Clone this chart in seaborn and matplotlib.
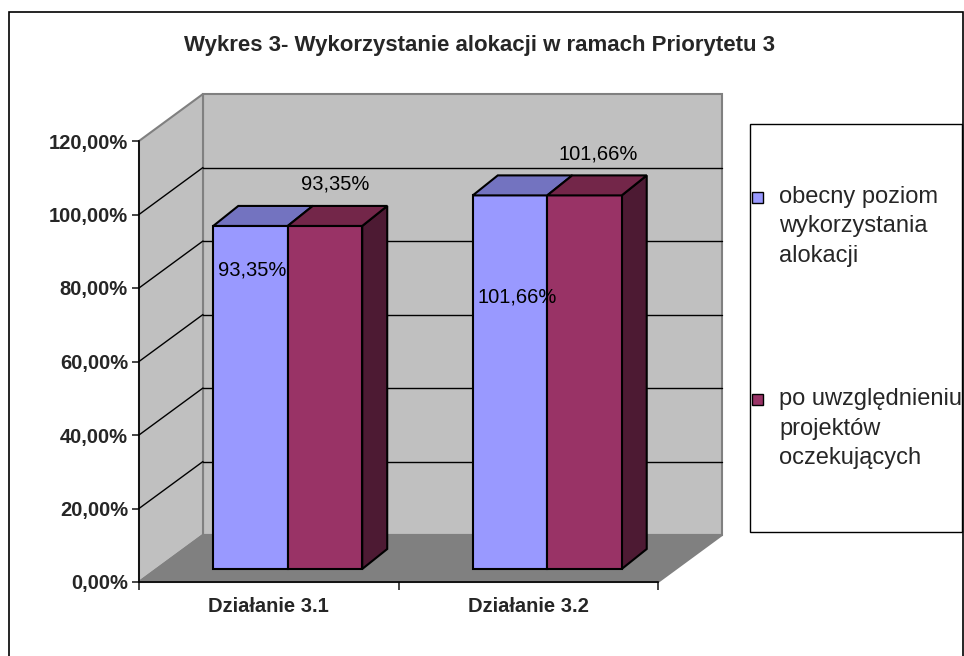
import matplotlib
matplotlib.use("Agg")
import matplotlib.pyplot as plt
from matplotlib.patches import Polygon, Rectangle
import pandas as pd
import seaborn as sns

# dane z wykresu
categories = ["Działanie 3.1", "Działanie 3.2"]
series_names = ["obecny poziom\nwykorzystania\nalokacji",
                "po uwzględnieniu\nprojektów\noczekujących"]
current_level = [0.9335, 1.0166]
with_pending = [0.9335, 1.0166]
y_ticks = [0.0, 0.2, 0.4, 0.6, 0.8, 1.0, 1.2]
title = "Wykres 3- Wykorzystanie alokacji w ramach Priorytetu 3"

front_colors = ["#9999FF", "#993366"]
top_colors = ["#7373C0", "#732649"]
side_colors = ["#4D4D80", "#4D1A33"]

df = pd.DataFrame({
    "kategoria": categories * 2,
    "seria": [series_names[0]] * 2 + [series_names[1]] * 2,
    "wartosc": current_level + with_pending,
})

sns.set_style("white")
plt.rcParams["font.family"] = ["Liberation Sans", "DejaVu Sans"]

W, H = 964, 656
fig = plt.figure(figsize=(W / 100, H / 100), dpi=100)

# front plane of the 3D box, in pixels
left, right, bottom, top = 139, 658, 582, 141
ax = fig.add_axes([left / W, (H - bottom) / H, (right - left) / W, (bottom - top) / H])
ux = (right - left) / 2.0      # px per category
uy = (bottom - top) / 1.2      # px per 100%

# depth offsets (px -> data units)
wall_dx, wall_dy = 64 / ux, 47 / uy
bar_dx, bar_dy = 19 / ux, 13 / uy
deep_dx, deep_dy = 25 / ux, 20 / uy

sns.barplot(data=df, x="kategoria", y="wartosc", hue="seria", palette=front_colors,
            saturation=1, width=0.574, edgecolor="black", linewidth=1.5, ax=ax,
            legend=False, zorder=3, clip_on=False)

x0, x1 = -0.5, 1.5
# walls and floor
ax.add_patch(Rectangle((x0 + wall_dx, wall_dy), x1 - x0, 1.2, fc="#C0C0C0", ec="#808080",
                       lw=1.5, zorder=0, clip_on=False))
ax.add_patch(Polygon([(x0, 0), (x0, 1.2), (x0 + wall_dx, 1.2 + wall_dy), (x0 + wall_dx, wall_dy)],
                     closed=True, fc="#C0C0C0", ec="#808080", lw=1.5, zorder=0, clip_on=False))
ax.add_patch(Polygon([(x0, 0), (x1, 0), (x1 + wall_dx, wall_dy), (x0 + wall_dx, wall_dy)],
                     closed=True, fc="#808080", ec="#808080", lw=1.5, zorder=0.5, clip_on=False))
for t in y_ticks[1:-1]:
    ax.plot([x0 + wall_dx, x1 + wall_dx], [t + wall_dy, t + wall_dy], color="black", lw=1,
            zorder=1, clip_on=False)
    ax.plot([x0, x0 + wall_dx], [t, t + wall_dy], color="black", lw=1, zorder=1, clip_on=False)

# 3D faces of the bars
for i, cont in enumerate(ax.containers):
    for p in cont.patches:
        p.set_x(p.get_x() + bar_dx)
        p.set_y(p.get_y() + bar_dy)
        bx, bw = p.get_x(), p.get_width()
        by, bt = p.get_y(), p.get_y() + p.get_height()
        ax.add_patch(Polygon([(bx + bw, by), (bx + bw, bt), (bx + bw + deep_dx, bt + deep_dy),
                              (bx + bw + deep_dx, by + deep_dy)], closed=True,
                             fc=side_colors[i], ec="black", lw=1.5, zorder=2, clip_on=False))
        ax.add_patch(Polygon([(bx, bt), (bx + bw, bt), (bx + bw + deep_dx, bt + deep_dy),
                              (bx + deep_dx, bt + deep_dy)], closed=True,
                             fc=top_colors[i], ec="black", lw=1.5, zorder=4, clip_on=False))

# data labels (positions as in the original Excel chart)
label_pos = [[(-0.0645, 0.848), (0.9586, 0.776)],
             [(0.255, 1.082), (1.269, 1.165)]]
for i, vals in enumerate([current_level, with_pending]):
    for j, v in enumerate(vals):
        lx, ly = label_pos[i][j]
        ax.text(lx, ly, f"{v * 100:.2f}%".replace(".", ","), ha="center", va="center",
                fontsize=14.5, color="black", zorder=6)

ax.set_xlim(x0, x1)
ax.set_ylim(0, 1.2)
ax.set_facecolor("none")
for s in ["top", "right"]:
    ax.spines[s].set_visible(False)
for s in ["left", "bottom"]:
    ax.spines[s].set_color("black")
    ax.spines[s].set_linewidth(1.2)
ax.set_yticks(y_ticks)
ax.set_yticklabels([f"{t * 100:.2f}%".replace(".", ",") for t in y_ticks],
                   fontsize=14.5, fontweight="bold")
ax.set_xticks([-0.5, 0.5, 1.5])
ax.set_xticklabels([])
ax.set_xticks([0, 1], minor=True)
ax.set_xticklabels(categories, minor=True, fontsize=14.5, fontweight="bold")
ax.tick_params(axis="y", which="major", direction="out", length=5, width=1.2, pad=3, left=True)
ax.tick_params(axis="x", which="major", direction="out", length=6, width=1.2, bottom=True)
ax.tick_params(axis="x", which="minor", length=0, pad=11)
ax.set_xlabel("")
ax.set_ylabel("")

fig.text(479 / W, 1 - 45 / H, title, ha="center", va="center", fontsize=16, fontweight="bold")

# legend box
fig.patches.append(Rectangle((750 / W, 1 - 532 / H), (962 - 750) / W, (532 - 124) / H,
                             transform=fig.transFigure, fill=False, ec="black", lw=1))
for name, col, yc in zip(series_names, front_colors, [226.5, 428.5]):
    fig.text(779 / W, 1 - yc / H, name, ha="left", va="center", fontsize=17, linespacing=1.45)
    fig.patches.append(Rectangle((752 / W, 1 - (yc - 24) / H), 11 / W, 11 / H,
                                 transform=fig.transFigure, fc=col, ec="black", lw=1))

# outer frame
fig.patches.append(Rectangle((9 / W, -0.1), (963 - 9) / W, 0.1 + (H - 12) / H,
                             transform=fig.transFigure, fill=False, ec="black", lw=1.2))

fig.savefig("out.png", dpi=100)
